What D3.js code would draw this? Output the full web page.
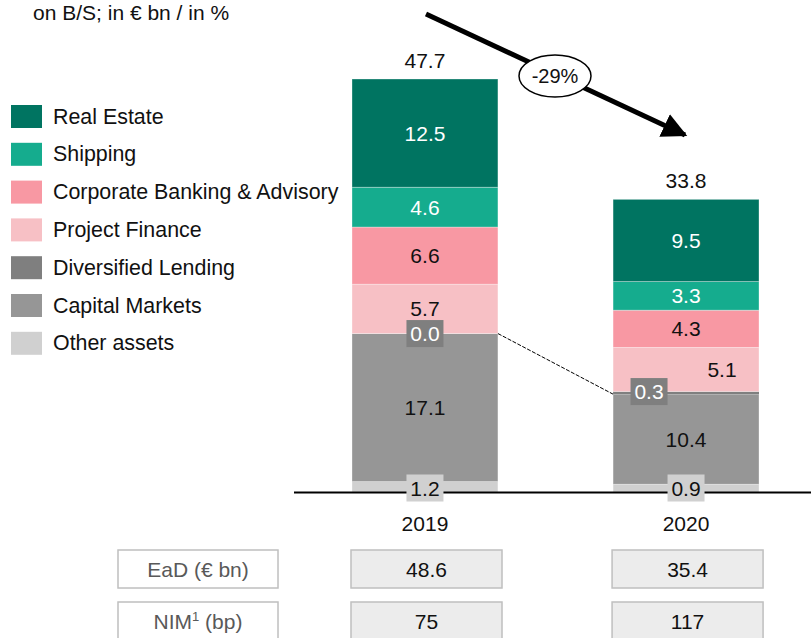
<!DOCTYPE html>
<meta charset="utf-8">
<style>
  body { margin: 0; background: #fff; }
  text { font-family: 'Liberation Sans', Arial, sans-serif; }
</style>
<body>
<script src="https://cdn.jsdelivr.net/npm/d3@7"></script>
<script>
// data
var years = ["2019", "2020"];
var categories = ["Real Estate", "Shipping", "Corporate Banking & Advisory",
  "Project Finance", "Diversified Lending", "Capital Markets", "Other assets"];
var realEstate = [12.5, 9.5];
var shipping = [4.6, 3.3];
var corporate = [6.6, 4.3];
var projectFinance = [5.7, 5.1];
var diversified = [0.0, 0.3];
var capitalMarkets = [17.1, 10.4];
var otherAssets = [1.2, 0.9];
var totals = [47.7, 33.8];
var ead = [48.6, 35.4];
var nim = [75, 117];

var colors = ["#007461", "#15ac8e", "#f898a3", "#f7c0c5", "#7f7f7f", "#969696", "#d0d0d0"];
var textColors = ["#fff", "#fff", "#111", "#111", "#fff", "#111", "#111"];

// stack from the bottom up
var series = [otherAssets, capitalMarkets, diversified, projectFinance, corporate, shipping, realEstate];
var seriesIdx = [6, 5, 4, 3, 2, 1, 0];

var width = 811, height = 638;
var fs = "21px";
var svg = d3.select("body").append("svg")
  .attr("width", width)
  .attr("height", height);

var x = d3.scaleBand().domain(years).range([352, 759]).paddingInner(0.441);
var y = d3.scaleLinear().domain([0, 47.7]).range([492, 79]);

// title
svg.append("text").attr("x", 33).attr("y", 20)
  .style("font-size", "21px").attr("fill", "#111")
  .text("on B/S; in € bn / in %");

// legend
var legend = svg.append("g").selectAll("g")
  .data(categories).join("g")
  .attr("transform", function (d, i) { return "translate(11," + (105 + i * 37.8) + ")"; });
legend.append("rect").attr("width", 31).attr("height", 23)
  .attr("fill", function (d, i) { return colors[i]; });
legend.append("text").attr("x", 42).attr("y", 18.5)
  .style("font-size", "21.4px").attr("fill", "#111")
  .text(function (d) { return d; });

// build segments
var segs = [];
years.forEach(function (yr, j) {
  var base = 0;
  series.forEach(function (s, k) {
    segs.push({ year: yr, j: j, cat: seriesIdx[k], y0: base, y1: base + s[j], v: s[j] });
    base += s[j];
  });
});

var bw = x.bandwidth();

// bars
svg.append("g").selectAll("rect")
  .data(segs).join("rect")
  .attr("x", function (d) { return x(d.year); })
  .attr("width", bw)
  .attr("y", function (d) { return y(d.y1); })
  .attr("height", function (d) { return y(d.y0) - y(d.y1); })
  .attr("fill", function (d) { return colors[d.cat]; })
  .attr("stroke", function (d) { return d.v > 0.5 ? "#fff" : "none"; })
  .attr("stroke-opacity", 0.4)
  .attr("stroke-width", 0.8);

// dashed connector between tops of capital markets
svg.append("line")
  .attr("x1", x("2019") + bw).attr("y1", y(otherAssets[0] + capitalMarkets[0]))
  .attr("x2", x("2020")).attr("y2", y(otherAssets[1] + capitalMarkets[1]))
  .attr("stroke", "#000").attr("stroke-width", 1).attr("stroke-dasharray", "4,1.5");

// baseline
svg.append("line").attr("x1", 294).attr("x2", 811)
  .attr("y1", y(0) + 0.5).attr("y2", y(0) + 0.5)
  .attr("stroke", "#000").attr("stroke-width", 2);

// segment labels
var cx = function (d) { return x(d.year) + bw / 2; };
var labels = svg.append("g").selectAll("g")
  .data(segs).join("g")
  .attr("transform", function (d) {
    var lx = cx(d), ly = y((d.y0 + d.y1) / 2);
    if (d.cat === 6) ly = y(0) - 4;               // other assets sits on the axis
    if (d.cat === 4) { ly = y(d.y1); if (d.j === 1) lx -= 37; }
    if (d.cat === 3 && d.j === 1) lx += 36;
    return "translate(" + lx + "," + ly + ")";
  });
labels.filter(function (d) { return d.cat === 6 || d.cat === 4; })
  .append("rect")
  .attr("x", -18.5).attr("y", -13.5).attr("width", 37).attr("height", 27)
  .attr("fill", function (d) { return colors[d.cat]; });
labels.append("text")
  .attr("text-anchor", "middle").attr("dy", "0.36em")
  .style("font-size", fs)
  .attr("fill", function (d) { return textColors[d.cat]; })
  .text(function (d) { return d3.format(".1f")(d.v); });

// totals
svg.append("g").selectAll("text")
  .data(totals).join("text")
  .attr("x", function (d, i) { return x(years[i]) + bw / 2; })
  .attr("y", function (d) { return y(d) - 19; })
  .attr("text-anchor", "middle").attr("dy", "0.36em")
  .style("font-size", fs).attr("fill", "#111")
  .text(function (d) { return d3.format(".1f")(d); });

// year labels
svg.append("g").selectAll("text")
  .data(years).join("text")
  .attr("x", function (d) { return x(d) + bw / 2; })
  .attr("y", 523).attr("dy", "0.36em")
  .attr("text-anchor", "middle")
  .style("font-size", fs).attr("fill", "#111")
  .text(function (d) { return d; });

// change arrow
svg.append("defs").append("marker")
  .attr("id", "head").attr("viewBox", "0 0 10 10")
  .attr("refX", 9).attr("refY", 5)
  .attr("markerWidth", 5).attr("markerHeight", 5)
  .attr("markerUnits", "strokeWidth")
  .attr("orient", "auto")
  .append("path").attr("d", "M0,0 L10,5 L0,10 Z").attr("fill", "#000");
svg.append("line")
  .attr("x1", 426).attr("y1", 14).attr("x2", 685).attr("y2", 135)
  .attr("stroke", "#000").attr("stroke-width", 5)
  .attr("marker-end", "url(#head)");
var change = totals[1] / totals[0] - 1;
svg.append("ellipse").attr("cx", 555).attr("cy", 76).attr("rx", 36).attr("ry", 21)
  .attr("fill", "#fff").attr("stroke", "#000").attr("stroke-width", 1.5);
svg.append("text").attr("x", 555).attr("y", 76).attr("dy", "0.36em")
  .attr("text-anchor", "middle").style("font-size", "20px").attr("fill", "#111")
  .text(d3.format(".0%")(change).replace("−", "-"));

// table below
var rows = [
  { label: "EaD (€ bn)", vals: ead, top: 550 },
  { label: "NIM", sup: "1", rest: " (bp)", vals: nim, top: 602 }
];
rows.forEach(function (r) {
  var g = svg.append("g");
  g.append("rect").attr("x", 118).attr("y", r.top).attr("width", 160).attr("height", 38)
    .attr("fill", "#fff").attr("stroke", "#bfbfbf").attr("stroke-width", 1.5);
  var t = g.append("text").attr("x", 198).attr("y", r.top + 26.5)
    .attr("text-anchor", "middle").style("font-size", fs).attr("fill", "#595959");
  if (r.sup) {
    t.append("tspan").text(r.label);
    t.append("tspan").attr("dy", -8).style("font-size", "13px").text(r.sup);
    t.append("tspan").attr("dy", 8).text(r.rest);
  } else {
    t.text(r.label);
  }
  g.selectAll("g.cell").data(r.vals).join("g").attr("class", "cell")
    .each(function (d, i) {
      var c = d3.select(this);
      var left = x(years[i]) - 1;
      c.append("rect").attr("x", left).attr("y", r.top).attr("width", 151).attr("height", 38)
        .attr("fill", "#ececec").attr("stroke", "#bfbfbf").attr("stroke-width", 1.5);
      c.append("text").attr("x", left + 75.5).attr("y", r.top + 26.5)
        .attr("text-anchor", "middle").style("font-size", fs).attr("fill", "#111")
        .text(d);
    });
});
</script>
</body>
